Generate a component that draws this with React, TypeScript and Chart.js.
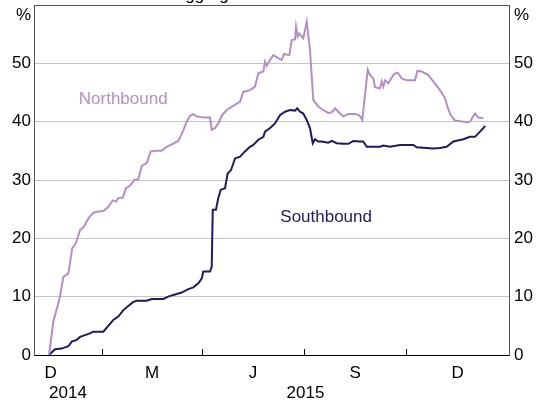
import React, { useEffect, useRef } from "react";
import { Chart, registerables } from "chart.js";

Chart.register(...registerables);

// x values: days since 1 Nov 2014
const northDays = [13.5, 17.3, 23.3, 26.3, 30.8, 34.3, 37.4, 41.3, 44.8, 48.7, 53.2, 57.7, 62.2, 66.6, 70.6, 73.5, 75.6, 79.6, 82.5, 86.1, 90.0, 93.5, 96.6, 101.1, 104.7, 109.4, 114.5, 119.0, 124.4, 129.4, 133.4, 136.9, 139.9, 142.9, 145.9, 151.8, 157.8, 159.4, 162.3, 165.3, 168.3, 172.8, 181.8, 184.8, 187.7, 193.7, 198.2, 201.2, 205.7, 207.2, 208.7, 211.7, 214.6, 219.1, 222.2, 224.2, 229.0, 231.1, 234.1, 235.0, 236.5, 237.9, 241.5, 244.6, 247.5, 250.5, 255.0, 259.5, 263.9, 267.0, 270.0, 274.4, 277.4, 281.9, 287.9, 291.7, 294.4, 299.3, 301.3, 304.3, 305.8, 310.3, 311.8, 313.3, 314.8, 317.8, 322.2, 325.3, 326.7, 329.8, 334.3, 341.7, 343.8, 347.7, 353.6, 358.1, 364.1, 368.6, 370.7, 373.7, 377.6, 388.1, 391.0, 395.5, 398.5, 403.0];
const northValues = [0, 5.7, 10.0, 13.4, 14.0, 18.3, 19.1, 21.4, 22.0, 23.4, 24.4, 24.6, 24.7, 25.4, 26.5, 26.3, 26.9, 27.0, 28.6, 29.0, 30.0, 30.1, 32.4, 32.9, 34.9, 35.0, 35.0, 35.7, 36.2, 36.7, 38.3, 40.0, 41.0, 41.3, 40.9, 40.7, 40.7, 38.6, 38.9, 39.7, 41.0, 42.0, 43.1, 43.4, 45.1, 45.4, 46.0, 48.3, 48.6, 50.3, 49.6, 50.6, 51.4, 50.9, 50.6, 51.6, 51.4, 54.0, 54.1, 56.3, 54.6, 55.1, 54.3, 57.1, 52.3, 43.7, 42.6, 42.0, 41.5, 41.6, 42.3, 41.4, 40.9, 41.3, 41.3, 41.1, 40.3, 48.9, 48.0, 47.4, 45.9, 45.7, 46.9, 46.0, 47.1, 46.6, 48.0, 48.4, 48.3, 47.4, 47.1, 47.1, 48.7, 48.6, 48.0, 46.9, 45.4, 44.0, 42.6, 41.1, 40.2, 39.9, 40.0, 41.4, 40.7, 40.6];

const southDays = [13.5, 18.8, 24.8, 30.8, 33.8, 38.3, 41.3, 45.7, 50.2, 53.2, 62.2, 66.6, 71.1, 75.6, 80.1, 84.6, 89.1, 92.1, 101.1, 105.6, 116.0, 120.4, 124.9, 132.5, 138.4, 142.9, 147.4, 150.4, 151.8, 157.8, 159.4, 160.3, 163.2, 165.3, 167.4, 171.3, 173.7, 176.7, 180.3, 184.8, 189.2, 193.7, 196.7, 201.2, 205.7, 207.2, 211.7, 216.1, 220.6, 225.1, 229.6, 234.1, 236.1, 238.6, 241.5, 244.6, 247.5, 250.0, 252.0, 255.0, 258.0, 263.9, 267.0, 271.5, 277.4, 281.9, 286.4, 292.4, 295.3, 298.4, 310.3, 313.3, 319.3, 328.3, 340.2, 343.2, 358.1, 364.1, 370.1, 376.1, 385.0, 391.0, 395.5, 398.5, 403.0, 404.5];
const southValues = [0, 1.0, 1.1, 1.5, 2.3, 2.6, 3.1, 3.4, 3.7, 4.0, 4.0, 5.0, 6.0, 6.6, 7.7, 8.4, 9.1, 9.3, 9.3, 9.6, 9.6, 10.0, 10.3, 10.7, 11.3, 11.6, 12.3, 13.1, 14.3, 14.3, 15.1, 24.9, 24.9, 26.9, 28.3, 28.6, 31.1, 31.7, 33.7, 34.0, 34.9, 35.7, 36.0, 36.9, 37.4, 38.3, 38.9, 39.7, 41.1, 41.7, 42.0, 41.9, 42.3, 41.7, 41.4, 40.3, 38.9, 36.3, 37.0, 36.6, 36.6, 36.4, 36.7, 36.3, 36.2, 36.2, 36.7, 36.6, 36.6, 35.7, 35.7, 35.9, 35.7, 36.0, 36.0, 35.6, 35.4, 35.5, 35.7, 36.6, 37.0, 37.4, 37.4, 38.0, 38.9, 39.3];

// Quarter boundaries (days since 1 Nov 2014): 1 Jan, 1 Apr, 1 Jul, 1 Oct 2015
const tickDays = [61, 151, 242, 334];
// Quarter labels centred in each quarter
const quarterLabels = ["D", "M", "J", "S", "D"];
const quarterCentres = [15, 106, 196.5, 288, 380];
const yearLabels = ["2014", "2015"];
const yearCentres = [30.5, 243.5];
const yTicks = [0, 10, 20, 30, 40, 50, 60];

const FONT = "'Liberation Sans', Arial, sans-serif";
const NORTH = "#b48ec6";
const SOUTH = "#1f1b5c";
const FRAME = "#555555";
const GRID = "#c4c4c4";

const overlay = {
  id: "overlay",
  afterDraw(chart: any) {
    const { ctx, chartArea, scales } = chart;
    const x = scales.x;
    const y = scales.y;
    ctx.save();
    // inward tick marks
    ctx.strokeStyle = "#000";
    ctx.lineWidth = 1;
    tickDays.forEach((d) => {
      const px = Math.round(x.getPixelForValue(d)) + 0.5;
      ctx.beginPath();
      ctx.moveTo(px, chartArea.bottom);
      ctx.lineTo(px, chartArea.bottom - 6);
      ctx.stroke();
    });
    ctx.fillStyle = "#000";
    ctx.font = `17px ${FONT}`;
    ctx.textAlign = "center";
    ctx.textBaseline = "middle";
    quarterLabels.forEach((l, i) => {
      ctx.fillText(l, x.getPixelForValue(quarterCentres[i]), chartArea.bottom + 18);
    });
    yearLabels.forEach((l, i) => {
      ctx.fillText(l, x.getPixelForValue(yearCentres[i]), chartArea.bottom + 38);
    });
    // % units
    ctx.textAlign = "right";
    ctx.fillText("%", chartArea.left - 3, chartArea.top + 10);
    ctx.textAlign = "left";
    ctx.fillText("%", chartArea.right + 5, chartArea.top + 10);
    // series labels
    ctx.textAlign = "center";
    ctx.fillStyle = NORTH;
    ctx.fillText("Northbound", x.getPixelForValue(80), y.getPixelForValue(43.9));
    ctx.fillStyle = SOUTH;
    ctx.fillText("Southbound", x.getPixelForValue(262), y.getPixelForValue(23.6));
    // cut-off title
    ctx.fillStyle = "#000";
    ctx.textAlign = "left";
    ctx.textBaseline = "alphabetic";
    ctx.fillText("Aggregate", 174, 0);
    ctx.restore();
  },
};

export default function App() {
  const ref = useRef<HTMLCanvasElement | null>(null);
  useEffect(() => {
    if (!ref.current) return;
    const yCommon = (pos: "left" | "right", width: number, pad: number, onArea: boolean) => ({
      type: "linear" as const,
      position: pos,
      min: 0,
      max: 60,
      afterBuildTicks: (s: any) => {
        s.ticks = yTicks.map((v) => ({ value: v }));
      },
      afterFit: (s: any) => {
        s.width = width;
        s.paddingTop = 0;
        s.paddingBottom = 0;
      },
      ticks: {
        padding: pad,
        color: "#000",
        font: { family: FONT, size: 17 },
        callback: (v: any) => (v === 60 ? "" : String(v)),
      },
      grid: {
        drawOnChartArea: onArea,
        drawTicks: false,
        color: (c: any) => (c.tick && c.tick.value === 60 ? FRAME : GRID),
        lineWidth: 1,
      },
      border: { display: true, color: FRAME, width: 1 },
    });
    const chart = new Chart(ref.current, {
      type: "line",
      data: {
        datasets: [
          {
            label: "Northbound",
            data: northDays.map((d, i) => ({ x: d, y: northValues[i] })),
            borderColor: NORTH,
            borderWidth: 2,
            pointRadius: 0,
            tension: 0,
            fill: false,
          },
          {
            label: "Southbound",
            data: southDays.map((d, i) => ({ x: d, y: southValues[i] })),
            borderColor: SOUTH,
            borderWidth: 2,
            pointRadius: 0,
            tension: 0,
            fill: false,
          },
        ],
      },
      options: {
        animation: false,
        responsive: false,
        maintainAspectRatio: false,
        devicePixelRatio: 1,
        layout: { padding: { top: 5, left: 0, right: 0, bottom: 0 } },
        plugins: { legend: { display: false }, tooltip: { enabled: false }, title: { display: false } },
        scales: {
          x: {
            type: "linear",
            min: 0,
            max: 426,
            afterFit: (s: any) => {
              s.height = 49;
              s.paddingLeft = 0;
              s.paddingRight = 0;
            },
            ticks: { display: false },
            grid: { drawOnChartArea: false, drawTicks: false },
            border: { display: true, color: "#000", width: 1 },
          },
          y: yCommon("left", 34, 3, true),
          y2: yCommon("right", 35, 5, false),
        },
      },
      plugins: [overlay],
    });
    return () => chart.destroy();
  }, []);
  return (
    <div style={{ position: "absolute", left: 0, top: 0, width: 544, height: 404, background: "#fff" }}>
      <canvas ref={ref} width={544} height={404} style={{ width: 544, height: 404 }} />
    </div>
  );
}
